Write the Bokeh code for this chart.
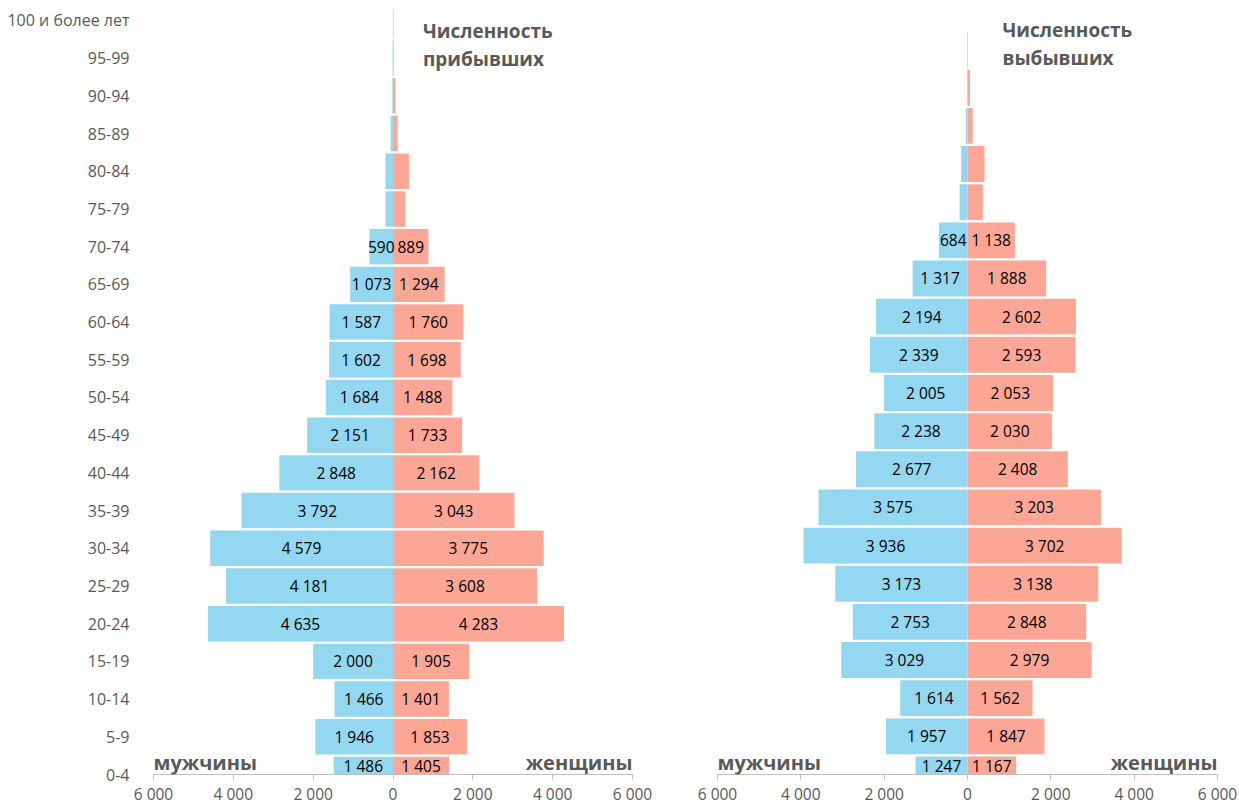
from bokeh.plotting import figure
from bokeh.models import FixedTicker, Label, ColumnDataSource, Range1d
from bokeh.layouts import row
from bokeh.embed import file_html
from bokeh.resources import INLINE
from bokeh.core.properties import value

ages = ["0-4", "5-9", "10-14", "15-19", "20-24", "25-29", "30-34", "35-39",
        "40-44", "45-49", "50-54", "55-59", "60-64", "65-69", "70-74",
        "75-79", "80-84", "85-89", "90-94", "95-99", "100 и более лет"]

arr_m = [1486, 1946, 1466, 2000, 4635, 4181, 4579, 3792, 2848, 2151, 1684,
         1602, 1587, 1073, 590, 190, 190, 60, 15, 10, 3]
arr_f = [1405, 1853, 1401, 1905, 4283, 3608, 3775, 3043, 2162, 1733, 1488,
         1698, 1760, 1294, 889, 300, 400, 120, 60, 15, 12]

dep_m = [1247, 1957, 1614, 3029, 2753, 3173, 3936, 3575, 2677, 2238, 2005,
         2339, 2194, 1317, 684, 190, 150, 40, 10, 12, 0]
dep_f = [1167, 1847, 1562, 2979, 2848, 3138, 3702, 3203, 2408, 2030, 2053,
         2593, 2602, 1888, 1138, 370, 410, 125, 60, 5, 0]

x_ticks = [-6000, -4000, -2000, 0, 2000, 4000, 6000]
x_tick_labels = ["6 000", "4 000", "2 000", "0", "2 000", "4 000", "6 000"]

titles = [["Численность", "прибывших"], ["Численность", "выбывших"]]
male_label = "мужчины"
female_label = "женщины"

BLUE = "#93D8F0"
SALMON = "#FCA796"
GRAY = "#595959"
AXIS = "#BFBFBF"
FONT = "Open Sans"
BAR_H = 0.94
LABEL_MIN = 500


def fmt(v):
    return f"{v:,}".replace(",", " ")


def make(m, f, title_lines, y_start, y_end, width, border_left, border_right,
         show_y, title_x, title_y, sex_y):
    p = figure(width=width, height=807, output_backend="svg",
               toolbar_location=None, x_range=Range1d(-6000, 6000),
               y_range=Range1d(y_start, y_end), min_border_top=9,
               min_border_bottom=0, min_border_left=border_left,
               min_border_right=border_right)
    p.outline_line_color = None
    p.grid.visible = False
    p.background_fill_color = "white"
    p.border_fill_color = "white"

    idx = list(range(len(ages)))
    src = ColumnDataSource(dict(y=idx, m=[-v for v in m], f=f))
    p.hbar(y="y", left="m", right=0, height=BAR_H, source=src,
           fill_color=BLUE, line_color=None)
    p.hbar(y="y", left=0, right="f", height=BAR_H, source=src,
           fill_color=SALMON, line_color=None)

    # data labels
    ly, lx, lt = [], [], []
    for i in idx:
        lo = max(i - BAR_H / 2, y_start)
        yc = (lo + i + BAR_H / 2) / 2
        if m[i] >= LABEL_MIN:
            ly.append(yc); lx.append(-m[i] / 2); lt.append(fmt(m[i]))
        if f[i] >= LABEL_MIN:
            ly.append(yc); lx.append(f[i] / 2); lt.append(fmt(f[i]))
    p.text(x=lx, y=ly, text=lt, text_align="center", text_baseline="middle",
           text_font=value(FONT), text_font_size="15.5px", text_color="#000000")

    # x axis
    xa = p.xaxis[0]
    xa.ticker = FixedTicker(ticks=x_ticks)
    xa.major_label_overrides = {t: l for t, l in zip(x_ticks, x_tick_labels)}
    xa.axis_line_color = AXIS
    xa.major_tick_line_color = AXIS
    xa.major_tick_out = 5
    xa.major_tick_in = 0
    xa.minor_tick_line_color = None
    xa.major_label_text_font = FONT
    xa.major_label_text_font_size = "15.5px"
    xa.major_label_text_color = GRAY
    xa.major_label_standoff = 3

    ya = p.yaxis[0]
    if show_y:
        ya.ticker = FixedTicker(ticks=idx)
        ya.major_label_overrides = {i: a for i, a in enumerate(ages)}
        ya.axis_line_color = None
        ya.major_tick_line_color = None
        ya.minor_tick_line_color = None
        ya.major_label_text_font = FONT
        ya.major_label_text_font_size = "16px"
        ya.major_label_text_color = GRAY
        ya.major_label_standoff = 18
    else:
        ya.visible = False

    for k, line in enumerate(title_lines):
        p.add_layout(Label(x=title_x, y=title_y[k], text=line,
                           text_font=FONT, text_font_size="19px",
                           text_font_style="bold", text_color=GRAY,
                           text_align="left", text_baseline="middle"))
    p.add_layout(Label(x=-6000, y=sex_y, text=male_label, text_font=FONT,
                       text_font_size="20px", text_font_style="bold",
                       text_color=GRAY, text_align="left",
                       text_baseline="middle"))
    p.add_layout(Label(x=6000, y=sex_y, text=female_label, text_font=FONT,
                       text_font_size="20px", text_font_style="bold",
                       text_color=GRAY, text_align="right",
                       text_baseline="middle"))
    return p


p1 = make(arr_m, arr_f, titles[0], 0.0, 20.29, 652, 153, 20, True,
          750, [19.73, 18.99], 0.32)
p2 = make(dep_m, dep_f, titles[1], 0.0, 20.05, 587, 65, 22, False,
          840, [19.50, 18.77], 0.31)

layout = row(p1, p2)
open("out.html", "w").write(file_html(layout, INLINE))
